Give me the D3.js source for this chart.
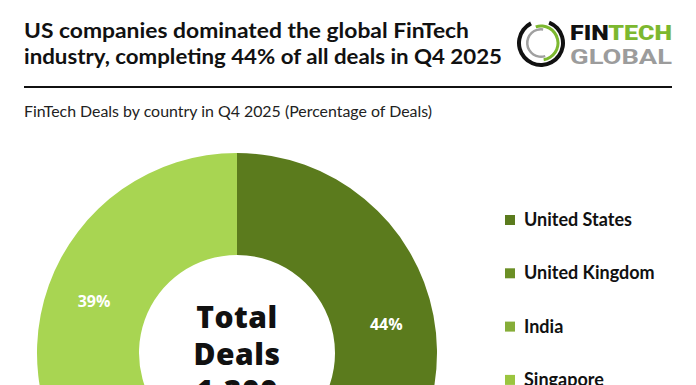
<!DOCTYPE html>
<html>
<head>
<meta charset="utf-8">
<script src="https://cdn.jsdelivr.net/npm/d3@7"></script>
<style>
  html, body { margin: 0; padding: 0; background: #fff; }
  svg { display: block; }
</style>
</head>
<body>
<svg id="chart" width="696" height="385"></svg>
<script>
// data
const countries = ["United States", "United Kingdom", "India", "Singapore", "Others"];
const shares = [44, 8, 5, 4, 39];
const sliceColors = ["#5b7b1d", "#6b8f25", "#86ad38", "#9bc53f", "#a8d552"];
const titleLines = ["US companies dominated the global FinTech", "industry, completing 44% of all deals in Q4 2025"];
const subtitle = "FinTech Deals by country in Q4 2025 (Percentage of Deals)";
const centerLines = ["Total", "Deals", "1,300"];

const svg = d3.select("#chart");
const W = 696, H = 385;

svg.append("rect").attr("width", W).attr("height", H).attr("fill", "#fff");

// title
svg.selectAll(".title")
    .data(titleLines)
    .enter().append("text")
    .attr("class", "title")
    .attr("x", 24)
    .attr("y", (d, i) => 38 + i * 25.5)
    .attr("textLength", (d, i) => i === 0 ? 445 : 478)
    .attr("lengthAdjust", "spacingAndGlyphs")
    .style("font-family", "Lato, sans-serif")
    .style("font-weight", 700)
    .style("font-size", "20.5px")
    .style("fill", "#111")
    .text(d => d);

svg.append("line")
    .attr("x1", 24).attr("x2", 672)
    .attr("y1", 87).attr("y2", 87)
    .style("stroke", "#111")
    .style("stroke-width", 2);

svg.append("text")
    .attr("x", 24)
    .attr("y", 117)
    .attr("textLength", 408)
    .attr("lengthAdjust", "spacingAndGlyphs")
    .style("font-family", "Lato, sans-serif")
    .style("font-size", "14.5px")
    .style("fill", "#222")
    .text(subtitle);

// logo
const logo = svg.append("g").attr("transform", "translate(541,43)");
const logoArc = d3.arc();
logo.append("path")
    .attr("d", logoArc({ innerRadius: 20, outerRadius: 24, startAngle: Math.PI * 0.12, endAngle: Math.PI * 1.85 }))
    .style("fill", "#111");
logo.append("path")
    .attr("d", logoArc({ innerRadius: 15.5, outerRadius: 18.5, startAngle: -Math.PI * 0.1, endAngle: Math.PI * 0.95 }))
    .style("fill", "#7cb82f");
logo.append("path")
    .attr("d", logoArc({ innerRadius: 12.5, outerRadius: 15, startAngle: Math.PI * 0.9, endAngle: Math.PI * 2.05 }))
    .style("fill", "#a0a0a0");

const fin = svg.append("text")
    .attr("x", 570).attr("y", 40)
    .attr("textLength", 102)
    .attr("lengthAdjust", "spacingAndGlyphs")
    .style("font-family", "Roboto, sans-serif")
    .style("font-weight", 900)
    .style("font-size", "20px");
fin.append("tspan").style("fill", "#111").text("FIN");
fin.append("tspan").style("fill", "#7cb82f").text("TECH");

svg.append("text")
    .attr("x", 570).attr("y", 64)
    .attr("textLength", 102)
    .attr("lengthAdjust", "spacingAndGlyphs")
    .style("font-family", "Roboto, sans-serif")
    .style("font-weight", 700)
    .style("font-size", "20px")
    .style("fill", "#9c9c9c")
    .text("GLOBAL");

// donut
const data = countries.map((c, i) => ({ country: c, share: shares[i], color: sliceColors[i] }));
const cx = 237, cy = 353, outerR = 200, innerR = 98;

const pie = d3.pie().sort(null).value(d => d.share);
const arc = d3.arc().innerRadius(innerR).outerRadius(outerR);
const labelArc = d3.arc().innerRadius(152).outerRadius(152);

const donut = svg.append("g").attr("transform", `translate(${cx},${cy})`);
const arcs = pie(data);

donut.selectAll(".slice")
    .data(arcs)
    .enter().append("path")
    .attr("class", "slice")
    .attr("d", arc)
    .style("fill", d => d.data.color);

donut.selectAll(".pct")
    .data(arcs)
    .enter().append("text")
    .attr("class", "pct")
    .attr("transform", d => `translate(${labelArc.centroid(d)})`)
    .attr("text-anchor", "middle")
    .attr("dy", "0.35em")
    .style("font-family", "'Open Sans', sans-serif")
    .style("font-weight", 700)
    .style("font-size", "16px")
    .style("fill", "#fff")
    .text(d => d.data.share + "%");

donut.selectAll(".center")
    .data(centerLines)
    .enter().append("text")
    .attr("class", "center")
    .attr("x", 0)
    .attr("y", (d, i) => -25 + i * 37)
    .attr("text-anchor", "middle")
    .style("font-family", "'Open Sans', sans-serif")
    .style("font-weight", 800)
    .style("font-size", "30px")
    .style("letter-spacing", "0.5px")
    .style("fill", "#111")
    .text(d => d);

// legend
const legend = svg.selectAll(".legend")
    .data(data)
    .enter().append("g")
    .attr("class", "legend")
    .attr("transform", (d, i) => `translate(505,${220 + i * 53.3})`);

legend.append("rect")
    .attr("x", 0).attr("y", -5)
    .attr("width", 10).attr("height", 10)
    .style("fill", d => d.color);

legend.append("text")
    .attr("x", 19)
    .attr("y", 6)
    .style("font-family", "Lato, sans-serif")
    .style("font-weight", 700)
    .style("font-size", "18px")
    .style("fill", "#111")
    .text(d => d.country);
</script>
</body>
</html>
